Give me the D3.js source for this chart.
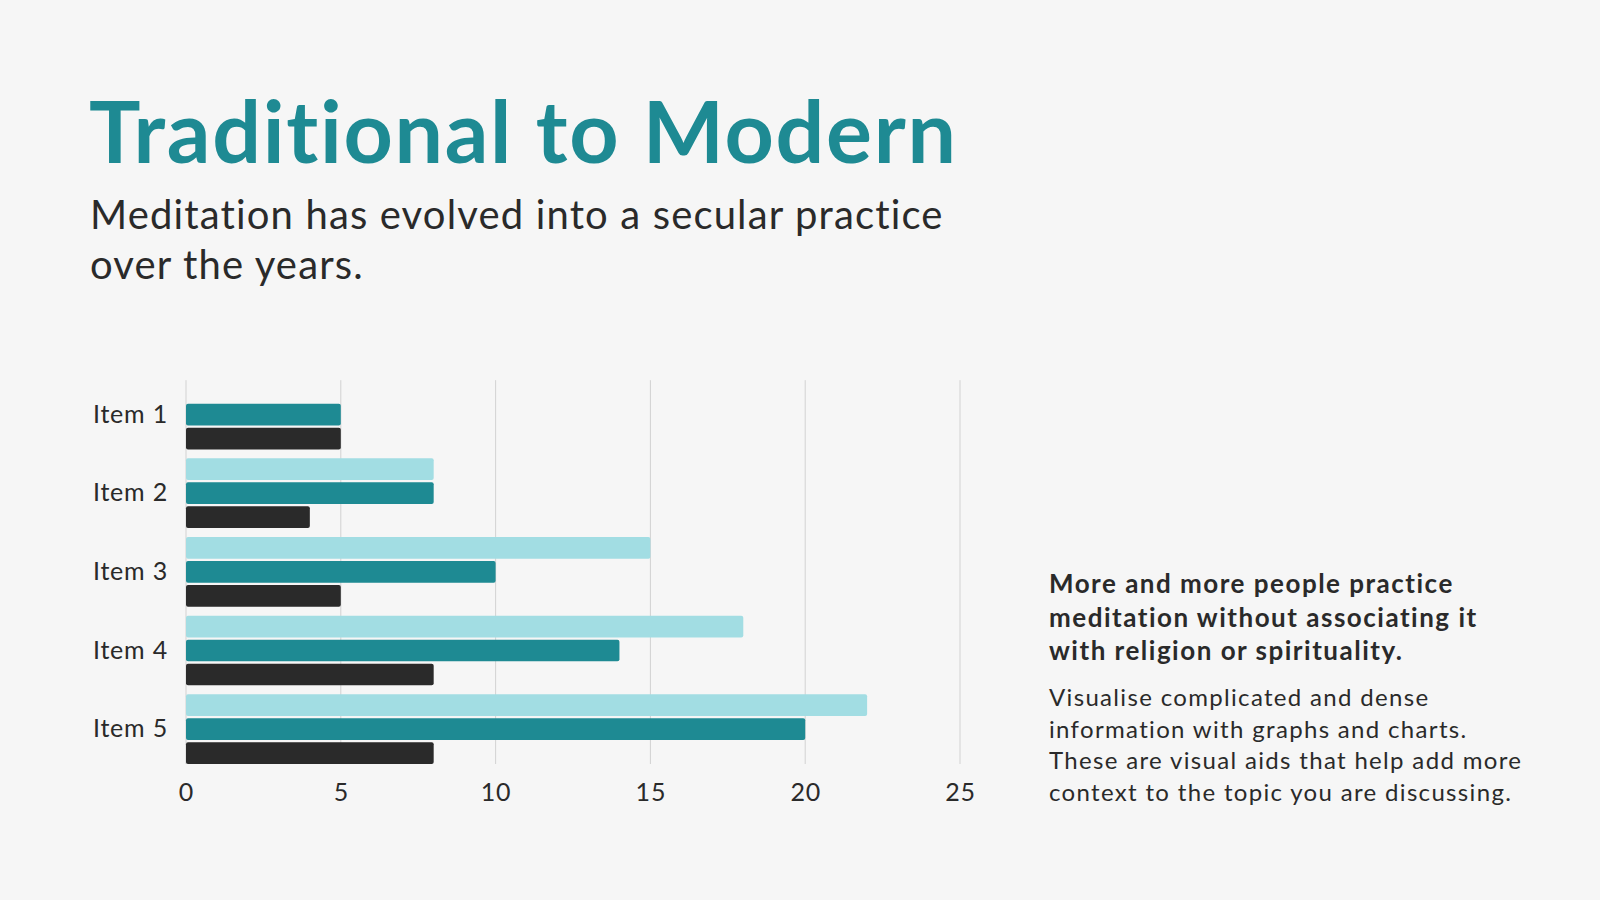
<!DOCTYPE html>
<meta charset="utf-8">
<style>
body {
  margin: 0;
  background: #f6f6f6;
}
svg {
  display: block;
  font-family: Lato, "Open Sans", sans-serif;
  font-variant-ligatures: none;
}
.grid line {
  stroke: #d2d2d2;
  stroke-width: 1px;
}
.axis text {
  fill: #2a2a2a;
  font-size: 25px;
  letter-spacing: 0.8px;
}
</style>
<svg width="1600" height="900"></svg>
<script src="https://d3js.org/d3.v7.min.js"></script>
<script>

var items = ["Item 1", "Item 2", "Item 3", "Item 4", "Item 5"];
var series = ["Series 1", "Series 2", "Series 3"];
var series1 = [null, 8, 15, 18, 22];
var series2 = [5, 8, 10, 14, 20];
var series3 = [5, 4, 5, 8, 8];
var xTicks = [0, 5, 10, 15, 20, 25];
var colors = ["#a2dde3", "#1e8a93", "#2a2a2a"];

var svg = d3.select("svg");

var data = items.map(function(name, i) {
  return {name: name, values: [series1[i], series2[i], series3[i]]};
});

var x = d3.scaleLinear()
    .domain([0, 25])
    .range([186, 960]);

var y = d3.scaleBand()
    .domain(items)
    .range([375.2, 768.5])
    .paddingInner(0.114)
    .paddingOuter(0.057);

var ySub = d3.scaleBand()
    .domain(series)
    .range([0, y.bandwidth()])
    .paddingInner(0.095);

var color = d3.scaleOrdinal()
    .domain(series)
    .range(colors);

// titles
svg.append("text")
    .attr("x", 89)
    .attr("y", 163)
    .attr("fill", "#1e8a93")
    .style("font-size", "86px")
    .style("font-weight", "bold")
    .style("letter-spacing", "1.7px")
    .text("Traditional to Modern");

svg.append("text")
    .attr("fill", "#2a2a2a")
    .style("font-size", "40px")
    .style("letter-spacing", "1.15px")
    .selectAll("tspan")
    .data(["Meditation has evolved into a secular practice", "over the years."])
  .enter().append("tspan")
    .attr("x", 90)
    .attr("y", function(d, i) { return 229 + i * 50; })
    .text(function(d) { return d; });

// grid
var gridTop = y(items[0]) + ySub(series[0]) + 0.5,
    gridBottom = y(items[items.length - 1]) + y.bandwidth();

svg.append("g")
    .attr("class", "grid")
  .selectAll("line")
  .data(xTicks)
  .enter().append("line")
    .attr("x1", function(d) { return x(d); })
    .attr("x2", function(d) { return x(d); })
    .attr("y1", gridTop)
    .attr("y2", gridBottom);

// bars
var groups = svg.append("g")
  .selectAll("g")
  .data(data)
  .enter().append("g")
    .attr("transform", function(d) { return "translate(0," + y(d.name) + ")"; });

groups.selectAll("rect")
  .data(function(d) {
    return d.values.map(function(v, i) { return {key: series[i], value: v}; })
      .filter(function(e) { return e.value != null; });
  })
  .enter().append("rect")
    .attr("x", x(0))
    .attr("y", function(d) { return ySub(d.key); })
    .attr("width", function(d) { return x(d.value) - x(0); })
    .attr("height", ySub.bandwidth())
    .attr("rx", 2)
    .attr("fill", function(d) { return color(d.key); });

// axes
var xAxis = d3.axisBottom(x)
    .tickValues(xTicks)
    .tickSize(0)
    .tickPadding(0);

svg.append("g")
    .attr("class", "axis axis--x")
    .attr("transform", "translate(0," + (gridBottom + 19) + ")")
    .call(xAxis)
    .attr("font-family", null)
    .attr("font-size", null)
    .call(function(g) { g.select(".domain").remove(); });

var yAxis = d3.axisLeft(y)
    .tickSize(0)
    .tickPadding(18);

svg.append("g")
    .attr("class", "axis axis--y")
    .attr("transform", "translate(" + x(0) + ",0)")
    .call(yAxis)
    .attr("font-family", null)
    .attr("font-size", null)
    .call(function(g) { g.select(".domain").remove(); });

// side note
svg.append("text")
    .attr("fill", "#2a2a2a")
    .style("font-size", "26px")
    .style("font-weight", "bold")
    .style("letter-spacing", "1.5px")
    .selectAll("tspan")
    .data(["More and more people practice", "meditation without associating it", "with religion or spirituality."])
  .enter().append("tspan")
    .attr("x", 1049)
    .attr("y", function(d, i) { return 593 + i * 33.5; })
    .text(function(d) { return d; });

svg.append("text")
    .attr("fill", "#2a2a2a")
    .style("font-size", "24px")
    .style("letter-spacing", "1.33px")
    .selectAll("tspan")
    .data(["Visualise complicated and dense", "information with graphs and charts.", "These are visual aids that help add more", "context to the topic you are discussing."])
  .enter().append("tspan")
    .attr("x", 1049)
    .attr("y", function(d, i) { return 706 + i * 31.7; })
    .text(function(d) { return d; });

</script>
